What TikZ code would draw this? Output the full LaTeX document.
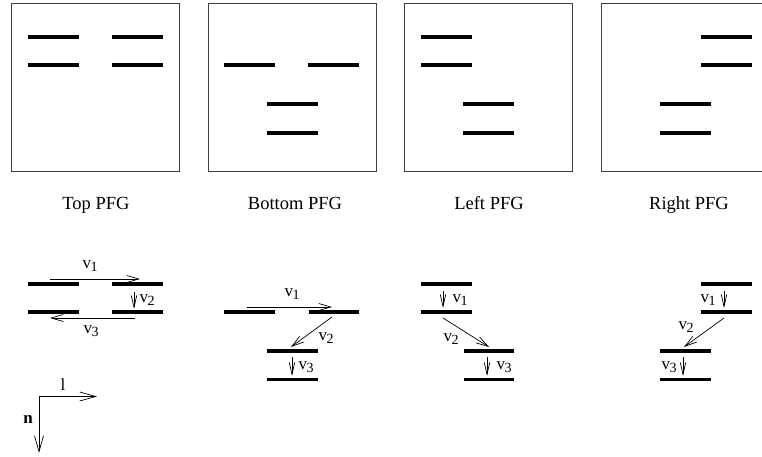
\documentclass[tikz,border=0pt]{standalone}
\usepackage{fontspec}
\setmainfont{Liberation Serif}
\usetikzlibrary{arrows.meta}
\newcommand{\vv}[1]{v\kern-0.5pt\raisebox{-0.45ex}{\fontsize{14}{14}\selectfont #1}}
\begin{document}
\begin{tikzpicture}[x=1pt,y=-1pt,
  frame/.style={draw=black!75,line width=1pt},
  lvl/.style={line width=3.2pt},
  arr/.style={line width=0.7pt,-{Straight Barb[length=12pt,width=7pt,line width=0.7pt]}},
  sarr/.style={line width=0.7pt,-{Straight Barb[length=12pt,width=5.5pt,line width=0.7pt]}},
  captxt/.style={font=\fontsize{18.5}{20}\selectfont,inner sep=0pt,anchor=base},
  lab/.style={font=\fontsize{17}{18}\selectfont,inner sep=0pt}]
\useasboundingbox (0,0) rectangle (762,457);
\begin{scope}
\clip (0,0) rectangle (762,457);
% frames
\draw[frame] (11,4) rectangle (179,172);
\draw[frame] (208,4) rectangle (376,172);
\draw[frame] (404,4) rectangle (572,172);
\draw[frame] (601,4) rectangle (769,172);
\end{scope}
% Top PFG box
\draw[lvl] (28,37) -- (79,37);  \draw[lvl] (112,37) -- (163,37);
\draw[lvl] (28,65) -- (79,65);  \draw[lvl] (112,65) -- (163,65);
% Bottom PFG box
\draw[lvl] (224,65) -- (275,65); \draw[lvl] (308,65) -- (359,65);
\draw[lvl] (267,104) -- (318,104); \draw[lvl] (267,133) -- (318,133);
% Left PFG box
\draw[lvl] (421,37) -- (472,37); \draw[lvl] (421,65) -- (472,65);
\draw[lvl] (463,104) -- (514,104); \draw[lvl] (463,133) -- (514,133);
% Right PFG box
\draw[lvl] (701,37) -- (752,37); \draw[lvl] (701,65) -- (752,65);
\draw[lvl] (660,104) -- (711,104); \draw[lvl] (660,133) -- (711,133);
% captions
\node[captxt] (c1) at (96,209) {Top PFG};
\node[captxt] (c2) at (295,209) {Bottom PFG};
\node[captxt] (c3) at (489,209) {Left PFG};
\node[captxt] (c4) at (689,209) {Right PFG};
% ---- Top scheme
\draw[lvl] (28,284) -- (79,284);  \draw[lvl] (112,284) -- (163,284);
\draw[lvl] (28,312) -- (79,312);  \draw[lvl] (112,312) -- (163,312);
\draw[arr] (50,279) -- (140,279);
\node[lab] (t1) at (90,266) {\vv{1}};
\draw[sarr] (134,292) -- (134,309);
\node[lab] (t2) at (147,300) {\vv{2}};
\draw[arr] (135,318) -- (50,318);
\node[lab] (t3) at (91,331) {\vv{3}};
% axes
\coordinate (o) at (39,396.5);
\coordinate (le) at (97,396.5);
\coordinate (ne) at (39,453);
\draw[line width=0.7pt,-{Straight Barb[length=16pt,width=9pt,line width=0.7pt]}] (o) -- (le);
\draw[line width=0.7pt,-{Straight Barb[length=16pt,width=9pt,line width=0.7pt]}] (o) -- (ne);
\node[lab] (ll) at (63,385) {l};
\node[lab] (nn) at (28,419) {\textbf{n}};
% ---- Bottom scheme
\draw[lvl] (224,312) -- (275,312); \draw[lvl] (309,312) -- (359,312);
\draw[lvl] (267,351) -- (318,351); \draw[lvl] (267,379.5) -- (318,379.5);
\draw[arr] (247,307) -- (332,307);
\node[lab] (b1) at (292,294) {\vv{1}};
\draw[arr] (332,317) -- (291,347);
\node[lab] (b2) at (326,338) {\vv{2}};
\draw[sarr] (292,357) -- (292,376);
\node[lab] (b3) at (306,367) {\vv{3}};
% ---- Left scheme
\draw[lvl] (421,284) -- (472,284); \draw[lvl] (421,312) -- (472,312);
\draw[lvl] (464,351) -- (514,351); \draw[lvl] (464,379.5) -- (514,379.5);
\draw[sarr] (443,291) -- (443,308);
\node[lab] (l1) at (460,300) {\vv{1}};
\draw[arr] (443,318) -- (489,347);
\node[lab] (l2) at (451,339) {\vv{2}};
\draw[sarr] (487,357) -- (487,376);
\node[lab] (l3) at (504,367) {\vv{3}};
% ---- Right scheme
\draw[lvl] (701,284) -- (752,284); \draw[lvl] (701,312) -- (752,312);
\draw[lvl] (660,351) -- (711,351); \draw[lvl] (660,379.5) -- (711,379.5);
\draw[sarr] (724,291) -- (724,308);
\node[lab] (r1) at (708,300) {\vv{1}};
\draw[arr] (724,318) -- (684,347);
\node[lab] (r2) at (686,327) {\vv{2}};
\draw[sarr] (683,357) -- (683,376);
\node[lab] (r3) at (669,367) {\vv{3}};
\end{tikzpicture}
\end{document}
